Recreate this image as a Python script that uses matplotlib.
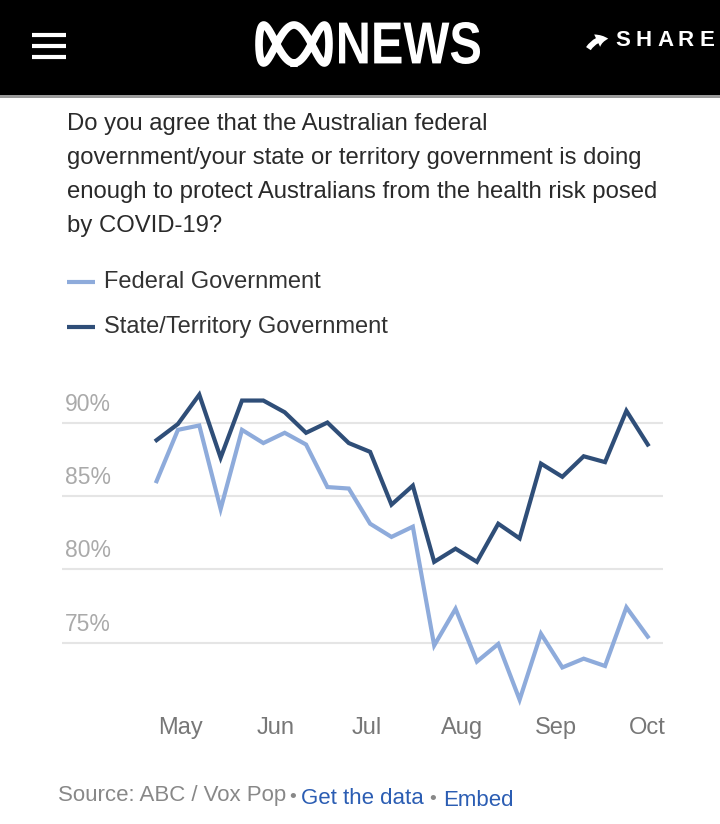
import numpy as np
import pandas as pd
import matplotlib
matplotlib.use('Agg')
import matplotlib.pyplot as plt
import matplotlib.dates as mdates
from matplotlib.patches import Rectangle, PathPatch, FancyArrowPatch
from matplotlib.textpath import TextPath
from matplotlib.font_manager import FontProperties
from matplotlib.transforms import Affine2D

plt.rcParams['font.family'] = ['Liberation Sans', 'DejaVu Sans']

# weekly survey waves
dates = ['2020-04-23', '2020-04-30', '2020-05-07', '2020-05-14', '2020-05-21', '2020-05-28',
         '2020-06-04', '2020-06-11', '2020-06-18', '2020-06-25', '2020-07-02', '2020-07-09',
         '2020-07-16', '2020-07-23', '2020-07-30', '2020-08-06', '2020-08-13', '2020-08-20',
         '2020-08-27', '2020-09-03', '2020-09-10', '2020-09-17', '2020-09-24', '2020-10-01']
federal = [86.0, 89.5, 89.8, 84.1, 89.5, 88.6, 89.3, 88.5, 85.6, 85.5, 83.1, 82.2,
           82.9, 74.8, 77.3, 73.7, 74.9, 71.1, 75.6, 73.3, 73.9, 73.4, 77.4, 75.4]
state = [88.8, 89.9, 91.9, 87.6, 91.5, 91.5, 90.7, 89.3, 90.0, 88.6, 88.0, 84.4,
         85.7, 80.5, 81.4, 80.5, 83.1, 82.1, 87.2, 86.3, 87.7, 87.3, 90.8, 88.5]
series_names = ['Federal Government', 'State/Territory Government']
y_ticks = [75, 80, 85, 90]
x_ticks = ['2020-05-01', '2020-06-01', '2020-07-01', '2020-08-01', '2020-09-01', '2020-10-01']

title_lines = ['Do you agree that the Australian federal',
               'government/your state or territory government is doing',
               'enough to protect Australians from the health risk posed',
               'by COVID-19?']

LIGHT = '#8eabdb'
DARK = '#2f4e78'
W, H = 720, 824


def fx(px):
    return np.asarray(px) / W


def fy(py):
    return 1 - np.asarray(py) / H


def boxed_text(s, x0, x1, y0, y1, prop):
    # squeeze a text outline into a pixel box (top-left origin)
    tp = TextPath((0, 0), s, size=100, prop=prop)
    ext = tp.get_extents()
    sx = (x1 - x0) / ext.width
    sy = (y1 - y0) / ext.height
    tr = (Affine2D().translate(-ext.x0, -ext.y0).scale(sx / W, sy / H)
          .translate(x0 / W, 1 - y1 / H))
    p = tr.transform_path(tp)
    fig.patches.append(PathPatch(p, transform=fig.transFigure, facecolor='white',
                                 edgecolor='none', zorder=2))


fig = plt.figure(figsize=(7.2, 8.24), dpi=100)
fig.patch.set_facecolor('white')

# header bar
fig.patches.append(Rectangle((0, fy(95)), 1, 95 / H, transform=fig.transFigure,
                             facecolor='black', edgecolor='none', zorder=0))
fig.patches.append(Rectangle((0, fy(98)), 1, 3 / H, transform=fig.transFigure,
                             facecolor='#9a9a9a', edgecolor='none', zorder=0))
for yy in (35, 46, 57):
    fig.lines.append(plt.Line2D([fx(32), fx(66)], [fy(yy), fy(yy)], transform=fig.transFigure,
                                color='white', lw=3, solid_capstyle='butt'))

# abc ribbon logo (rough)
t = np.linspace(0, 2 * np.pi, 400)
lx = 294 + 35 * np.sin(t)
ly = 44 + 19 * np.cos(3 * t)
fig.lines.append(plt.Line2D(fx(lx), fy(ly), transform=fig.transFigure, color='white', lw=5.5))
bold = FontProperties(family='Liberation Sans', weight='bold')
boxed_text('NEWS', 339, 480, 22, 64, bold)

# share button
for i, ch in enumerate('SHARE'):
    fig.text(fx(623 + 21 * i), fy(40), ch, color='white', fontsize=16, fontweight='bold',
             va='center', ha='center')
fig.patches.append(FancyArrowPatch((fx(587), fy(51)), (fx(611), fy(39)),
                                   transform=fig.transFigure, connectionstyle='arc3,rad=-0.35',
                                   arrowstyle='simple,head_length=0.9,head_width=1.1,tail_width=0.45',
                                   mutation_scale=9, color='white', lw=0))

# question
for i, line in enumerate(title_lines):
    fig.text(fx(67), fy(124 + 34 * i), line, color='#2a2a2a', fontsize=17.2,
             va='center', ha='left')

# legend
for yy, c, name in [(282, LIGHT, series_names[0]), (327, DARK, series_names[1])]:
    fig.lines.append(plt.Line2D([fx(67), fx(95)], [fy(yy), fy(yy)], transform=fig.transFigure,
                                color=c, lw=3, solid_capstyle='butt'))
    fig.text(fx(104), fy(yy), name, color='#333333', fontsize=17, va='center', ha='left')

# chart
ax = fig.add_axes([fx(62), fy(710), (663 - 62) / W, (710 - 380) / H])
xd = pd.to_datetime(dates)
ax.plot(xd, federal, color=LIGHT, lw=3, solid_joinstyle='miter', zorder=3)
ax.plot(xd, state, color=DARK, lw=3, solid_joinstyle='miter', zorder=4)

ax.set_ylim(70.4, 92.9)
ax.set_xlim(pd.Timestamp('2020-03-23'), pd.Timestamp('2020-10-06'))
ax.set_yticks(y_ticks)
ax.yaxis.set_ticklabels([])
ax.tick_params(axis='y', length=0)
ax.grid(axis='y', color='#e5e5e5', lw=1.5)
ax.set_axisbelow(True)
for v in y_ticks:
    ax.annotate('%d%%' % v, xy=(0, v), xycoords=('axes fraction', 'data'),
                xytext=(3, 7), textcoords='offset pixels', fontsize=16.5,
                color='#aaaaaa', ha='left', va='bottom')

ax.set_xticks(pd.to_datetime(x_ticks))
ax.xaxis.set_major_formatter(mdates.DateFormatter('%b'))
ax.tick_params(axis='x', length=0, pad=5, labelsize=17, labelcolor='#777777')
for s in ax.spines.values():
    s.set_visible(False)
ax.set_facecolor('none')

# source line
fig.text(fx(58), fy(796), 'Source: ABC / Vox Pop', color='#888888', fontsize=16,
         va='center', ha='left')
fig.text(fx(289), fy(798), '\u2022', color='#888888', fontsize=14, va='center', ha='left')
fig.text(fx(301), fy(799), 'Get the data', color='#2b5db3', fontsize=16, va='center', ha='left')
fig.text(fx(429), fy(800), '\u2022', color='#888888', fontsize=14, va='center', ha='left')
fig.text(fx(443), fy(801), 'Embed', color='#2b5db3', fontsize=16, va='center', ha='left')

fig.savefig('out.png', dpi=100)
